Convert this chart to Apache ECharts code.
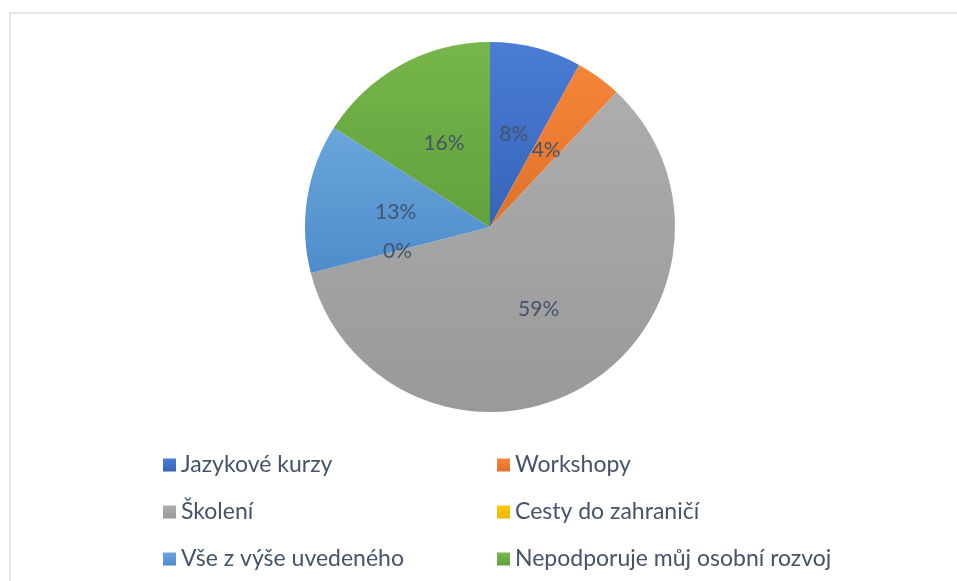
<!DOCTYPE html>
<html>
<head>
<meta charset="utf-8">
<script src="https://cdn.jsdelivr.net/npm/echarts@6/dist/echarts.min.js"></script>
<style>
  html, body { margin: 0; padding: 0; background: #fff; }
  #chart { width: 957px; height: 581px; }
</style>
</head>
<body>
<div id="chart"></div>
<script>
// kategorie a hodnoty (%)
var categories = ['Jazykové kurzy', 'Workshopy', 'Školení', 'Cesty do zahraničí', 'Vše z výše uvedeného', 'Nepodporuje můj osobní rozvoj'];
var values = [8, 4, 59, 0, 13, 16];
// barvy: svetlejsi nahore, tmavsi dole (jako v Excelu)
var colorsTop = ['#4a7dd6', '#f58538', '#adadad', '#ffc90a', '#6aa6dc', '#76b64a'];
var colorsBottom = ['#3763b8', '#e0712a', '#999999', '#f0b400', '#4e8ccb', '#62a03d'];

var chart = echarts.init(document.getElementById('chart'));

function grad(i) {
    return new echarts.graphic.LinearGradient(0, 0, 0, 1, [
        {offset: 0, color: colorsTop[i]},
        {offset: 1, color: colorsBottom[i]}
    ]);
}

var pieData = [];
for (var i = 0; i < categories.length; i++) {
    pieData.push({name: categories[i], value: values[i], itemStyle: {color: grad(i)}});
}

var legendText = {fontFamily: 'Lato', fontSize: 23, color: '#44546A', lineHeight: 24};

var option = {
    animation: false,
    graphic: [{
        type: 'rect',
        shape: {x: 10, y: 13, width: 960, height: 600},
        style: {fill: 'none', stroke: '#e3e7ed', lineWidth: 2}
    }],
    legend: [{
        orient: 'vertical',
        left: 163,
        top: 453,
        padding: 0,
        itemWidth: 13,
        itemHeight: 13,
        itemGap: 23,
        icon: 'rect',
        textStyle: legendText,
        data: [categories[0], categories[2], categories[4]]
    }, {
        orient: 'vertical',
        left: 497,
        top: 453,
        padding: 0,
        itemWidth: 13,
        itemHeight: 13,
        itemGap: 23,
        icon: 'rect',
        textStyle: legendText,
        data: [categories[1], categories[3], categories[5]]
    }],
    series: [{
        type: 'pie',
        center: [490, 227],
        radius: 185,
        startAngle: 90,
        clockwise: true,
        stillShowZeroSum: true,
        minShowLabelAngle: 0,
        label: {
            show: true,
            position: 'inside',
            fontFamily: 'Lato',
            fontSize: 21,
            color: '#44546A',
            formatter: '{c}%'
        },
        labelLine: {show: false},
        emphasis: {disabled: true},
        data: pieData
    }]
};
chart.setOption(option);
</script>
</body>
</html>
